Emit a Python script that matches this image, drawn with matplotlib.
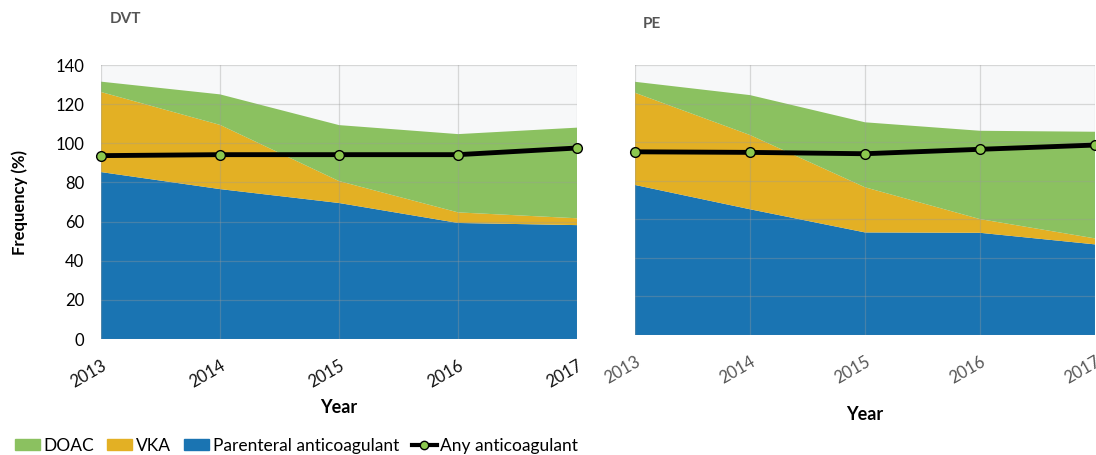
import matplotlib.pyplot as plt
from matplotlib.lines import Line2D
from matplotlib.patches import Patch

plt.rcParams['font.family'] = ['Lato', 'DejaVu Sans']

years = [2013, 2014, 2015, 2016, 2017]

# DVT panel (%)
dvt_parenteral = [85.3, 76.6, 69.5, 59.3, 58.2]
dvt_vka = [40.9, 32.8, 11.2, 5.4, 3.5]
dvt_doac = [5.3, 15.6, 28.6, 40.0, 46.3]
dvt_any = [93.7, 94.2, 94.2, 94.2, 97.6]

# PE panel (%)
pe_parenteral = [77.8, 65.2, 53.2, 53.0, 47.0]
pe_vka = [47.8, 38.5, 23.4, 7.1, 3.1]
pe_doac = [5.7, 20.7, 33.7, 45.8, 55.3]
pe_any = [95.0, 94.7, 94.0, 96.3, 98.5]

blue = '#1a74b2'
yellow = '#e3b024'
green = '#8bc160'
marker_green = '#8cc84e'

fig = plt.figure(figsize=(10.96, 4.55), dpi=100)
ax1 = fig.add_axes([0.0922, 0.2549, 0.4343, 0.6022])
ax2 = fig.add_axes([0.5794, 0.2637, 0.4197, 0.5934])


def draw_panel(ax, parenteral, vka, doac, anyac, tick_color):
    ax.set_facecolor('#f7f8f9')
    ax.stackplot(years, parenteral, vka, doac, colors=[blue, yellow, green], zorder=2)
    # faint grid over the filled areas
    ax.grid(True, color='#9a9a9a', lw=0.9, alpha=0.35, zorder=3)
    ax.set_axisbelow(False)
    ax.plot(years, anyac, color='black', lw=3.5, marker='o', markersize=7,
            markerfacecolor=marker_green, markeredgecolor='black', markeredgewidth=1,
            zorder=4, clip_on=False)
    ax.set_xlim(2013, 2017)
    ax.set_ylim(0, 140)
    ax.set_yticks(range(0, 141, 20))
    ax.set_xticks(years)
    for s in ax.spines.values():
        s.set_visible(False)
    ax.tick_params(length=0)
    ax.set_xticklabels([str(y) for y in years], rotation=30, ha='right',
                       rotation_mode='anchor', fontsize=12, color=tick_color)
    for lbl in ax.get_xticklabels():
        lbl.set_y(-0.05)


draw_panel(ax1, dvt_parenteral, dvt_vka, dvt_doac, dvt_any, '#111111')
draw_panel(ax2, pe_parenteral, pe_vka, pe_doac, pe_any, '#555555')

ax1.tick_params(axis='y', labelsize=12, pad=12)
ax2.tick_params(axis='y', labelleft=False)

ax1.set_ylabel('Frequency (%)', fontsize=12, fontweight='bold', labelpad=20)
ax1.set_xlabel('Year', fontsize=13, fontweight='bold', labelpad=6)
ax2.set_xlabel('Year', fontsize=13, fontweight='bold', labelpad=14)

fig.text(0.100, 0.958, 'DVT', fontsize=11, fontweight='bold', color='#555555', va='center')
fig.text(0.586, 0.948, 'PE', fontsize=11, fontweight='bold', color='#555555', va='center')

handles = [
    Patch(color=green),
    Patch(color=yellow),
    Patch(color=blue),
    Line2D([], [], color='black', lw=3, marker='o', markersize=6,
           markerfacecolor=marker_green, markeredgecolor='black'),
]
labels = ['DOAC', 'VKA', 'Parenteral anticoagulant', 'Any anticoagulant']
fig.legend(handles, labels, loc='lower left', bbox_to_anchor=(0.004, -0.02), ncol=4,
           frameon=False, fontsize=12.5, handlelength=1.45, handleheight=0.6,
           handletextpad=0.2, columnspacing=0.75, borderaxespad=0.2)

fig.savefig('out.png', dpi=100)
